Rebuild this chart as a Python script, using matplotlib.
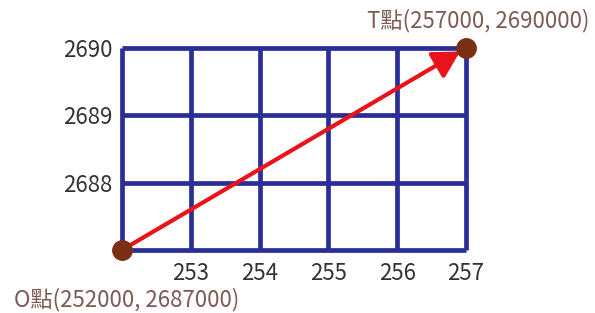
import matplotlib
matplotlib.use("Agg")
import matplotlib.pyplot as plt

# 座標 (千公尺)
x_grid = [252, 253, 254, 255, 256, 257]
y_grid = [2687, 2688, 2689, 2690]
x_ticklabels = ["", "253", "254", "255", "256", "257"]
y_ticklabels = ["", "2688", "2689", "2690"]

p_start = (252, 2687)
p_end = (257, 2690)
label_start = "O點(252000, 2687000)"
label_end = "T點(257000, 2690000)"

fonts = ["Noto Sans CJK TC", "DejaVu Sans"]
navy = "#2b2e96"

fig = plt.figure(figsize=(5.95, 3.13), dpi=100)
ax = fig.add_axes([122 / 595, 63 / 313, 344 / 595, 202 / 313])
ax.set_xlim(x_grid[0], x_grid[-1])
ax.set_ylim(y_grid[0], y_grid[-1])

# 格線
ax.vlines(x_grid, y_grid[0], y_grid[-1], color=navy, lw=3.4, clip_on=False, zorder=1)
ax.hlines(y_grid, x_grid[0], x_grid[-1], color=navy, lw=3.4, clip_on=False, zorder=1)

for s in ax.spines.values():
    s.set_visible(False)
ax.set_xticks(x_grid)
ax.set_xticklabels(x_ticklabels, family=fonts, fontsize=16, color="#333333")
ax.set_yticks(y_grid)
ax.set_yticklabels(y_ticklabels, family=fonts, fontsize=16, color="#333333")
ax.tick_params(length=0)
ax.tick_params(axis="x", pad=9)
ax.tick_params(axis="y", pad=7)

# 箭頭 O -> T
ax.annotate("", xy=p_end, xytext=p_start,
            arrowprops=dict(arrowstyle="-|>,head_length=0.8,head_width=0.45",
                            mutation_scale=20, color="#e8141a", lw=3,
                            shrinkA=0, shrinkB=5),
            annotation_clip=False, zorder=3)

ax.plot([p_start[0], p_end[0]], [p_start[1], p_end[1]], "o", ms=14,
        color="#7a2e14", ls="none", clip_on=False, zorder=4)

ax.annotate(label_end, xy=p_end, xytext=(9, 20), textcoords="offset points",
            ha="center", va="center", family=fonts, fontsize=16, color="#7d5a52",
            annotation_clip=False)
ax.annotate(label_start, xy=p_start, xytext=(3, -36), textcoords="offset points",
            ha="center", va="center", family=fonts, fontsize=16, color="#7d5a52",
            annotation_clip=False)

fig.savefig("out.png", dpi=100)
